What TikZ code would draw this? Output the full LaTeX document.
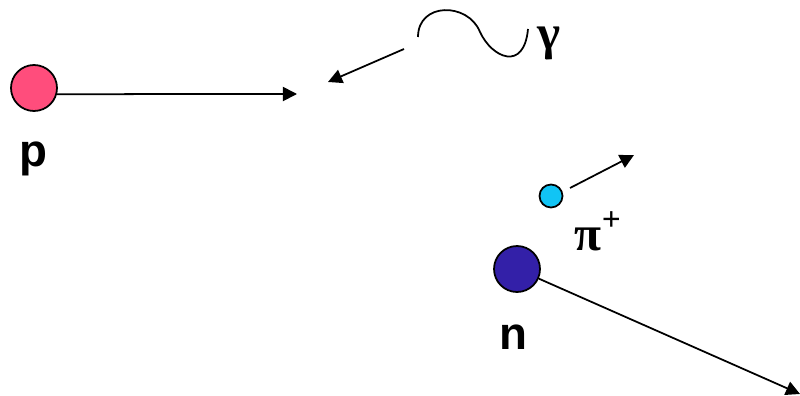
\documentclass[tikz,border=0pt]{standalone}
\usepackage{fontspec}
\usetikzlibrary{arrows.meta}
\setmainfont{Liberation Sans}
\newfontfamily\greekfont{Liberation Serif}
\definecolor{protonred}{HTML}{FF4D7C}
\definecolor{pionblue}{HTML}{11C4F5}
\definecolor{neutronblue}{HTML}{3320A8}
\begin{document}
\begin{tikzpicture}[x=0.02cm, y=-0.02cm, line width=1pt,
  particle/.style={circle, draw=black, line width=1pt, inner sep=0pt},
  track/.style={-{Triangle[length=8pt, width=8pt]}, line width=1pt},
  lbl/.style={font=\fontsize{26}{30}\selectfont\bfseries, inner sep=0pt},
  glbl/.style={font=\greekfont\fontsize{28}{32}\selectfont\bfseries, inner sep=0pt}]
  \useasboundingbox (0,0) rectangle (800,395);
  % particles
  \node[particle, fill=protonred, minimum size=0.92cm] (p) at (34,88) {};
  \node[particle, fill=pionblue, minimum size=0.46cm] (pi) at (551,196) {};
  \node[particle, fill=neutronblue, minimum size=0.92cm] (n) at (517,269) {};
  % labels
  \node[lbl] (plabel) at (33,159) {p};
  \node[lbl] (nlabel) at (513,337) {n};
  \node[glbl] (gammalabel) at (549,43) {γ};
  \node[glbl, anchor=base west] (pilabel) at (574,250) {π\raisebox{0.4em}{\fontsize{19}{22}\selectfont\bfseries +}};
  % photon
  \draw[line width=1pt] (418,37) .. controls (418,2) and (468,2) .. (480,32)
    .. controls (492,58) and (524,72) .. (528,29);
  \coordinate (gstart) at (404,49);
  \coordinate (gend) at (328,82);
  \draw[track] (gstart) -- (gend);
  % tracks
  \coordinate (pend) at (297,94);
  \draw[track] (p.-15) -- (pend);
  \coordinate (pistart) at (570,188);
  \coordinate (piend) at (634,155);
  \draw[track] (pistart) -- (piend);
  \coordinate (nend) at (800,394);
  \draw[track] (n) -- (nend);
\end{tikzpicture}
\end{document}
